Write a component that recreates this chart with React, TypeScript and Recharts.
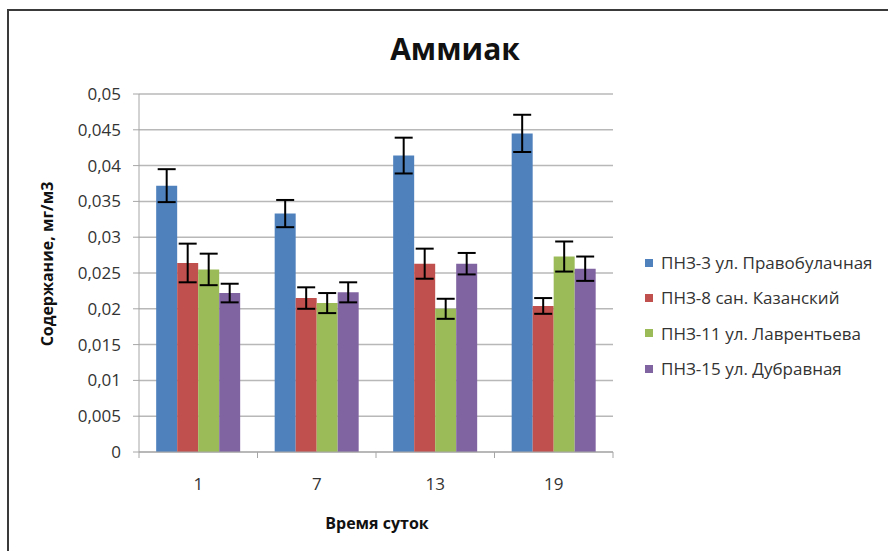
import { BarChart, Bar, XAxis, YAxis, CartesianGrid, ErrorBar, Legend } from "recharts";

// Аммиак: concentration by time of day for four monitoring posts, Excel-2007 look.

const categories = ["1", "7", "13", "19"];

const seriesNames = [
  "ПНЗ-3 ул. Правобулачная",
  "ПНЗ-8 сан. Казанский",
  "ПНЗ-11 ул. Лаврентьева",
  "ПНЗ-15 ул. Дубравная",
];
const seriesColors = ["#4F81BD", "#C0504D", "#9BBB59", "#8064A2"];

const pnz3 = [0.0372, 0.0333, 0.0414, 0.0445];
const pnz3Err = [0.0023, 0.0019, 0.0025, 0.0026];
const pnz8 = [0.0264, 0.0215, 0.0263, 0.0204];
const pnz8Err = [0.0027, 0.0015, 0.0021, 0.0011];
const pnz11 = [0.0255, 0.0208, 0.02, 0.0273];
const pnz11Err = [0.0022, 0.0014, 0.0014, 0.0021];
const pnz15 = [0.0222, 0.0223, 0.0263, 0.0256];
const pnz15Err = [0.0013, 0.0014, 0.0015, 0.0017];

const yTicks = [0, 0.005, 0.01, 0.015, 0.02, 0.025, 0.03, 0.035, 0.04, 0.045, 0.05];

const data = categories.map((t, i) => ({
  t,
  s1: pnz3[i],
  e1: pnz3Err[i],
  s2: pnz8[i],
  e2: pnz8Err[i],
  s3: pnz11[i],
  e3: pnz11Err[i],
  s4: pnz15[i],
  e4: pnz15Err[i],
}));

const W = 888;
const H = 551;
const PLOT_LEFT = 139;
const PLOT_RIGHT = 613;
const PLOT_TOP = 94;
const PLOT_BOTTOM = 452;
const Y_AXIS_W = 60;
const X_AXIS_H = 30;
const FONT = "'Open Sans', sans-serif";
const TEXT = "#333";

const band = (PLOT_RIGHT - PLOT_LEFT) / categories.length;

function XTick(props: any) {
  const { x, payload, index } = props;
  return (
    <g>
      <line x1={x - band / 2} x2={x - band / 2} y1={PLOT_BOTTOM} y2={PLOT_BOTTOM + 6} stroke="#a6a6a6" />
      {index === categories.length - 1 && (
        <line x1={x + band / 2} x2={x + band / 2} y1={PLOT_BOTTOM} y2={PLOT_BOTTOM + 6} stroke="#a6a6a6" />
      )}
      <text x={x} y={PLOT_BOTTOM + 38} textAnchor="middle" fontSize={17} fill={TEXT} fontFamily={FONT}>
        {payload.value}
      </text>
    </g>
  );
}

function LegendBox() {
  return (
    <div style={{ fontFamily: FONT, fontSize: 17, color: TEXT }}>
      {seriesNames.map((name, i) => (
        <div key={name} style={{ display: "flex", alignItems: "center", height: 35.3 }}>
          <span style={{ width: 8, height: 8, background: seriesColors[i], marginRight: 8 }} />
          <span style={{ whiteSpace: "nowrap" }}>{name}</span>
        </div>
      ))}
    </div>
  );
}

export default function App() {
  const keys = ["s1", "s2", "s3", "s4"];
  const errs = ["e1", "e2", "e3", "e4"];
  return (
    <div
      style={{
        position: "absolute",
        left: 0,
        top: 0,
        width: W,
        height: H,
        overflow: "hidden",
        background: "#fff",
        fontFamily: FONT,
      }}
    >
      <div
        style={{
          position: "absolute",
          left: 7,
          top: 9,
          width: W,
          height: H,
          borderLeft: "2px solid #3a3a3a",
          borderTop: "2px solid #3a3a3a",
        }}
      />
      <div
        style={{
          position: "absolute",
          left: 0,
          width: 910,
          top: 28,
          textAlign: "center",
          fontSize: 30,
          fontWeight: 700,
          color: "#111",
        }}
      >
        Аммиак
      </div>
      <div
        style={{
          position: "absolute",
          left: 47,
          top: 264,
          transform: "translate(-50%, -50%) rotate(-90deg)",
          whiteSpace: "nowrap",
          fontSize: 16,
          fontWeight: 700,
          color: "#111",
        }}
      >
        Содержание, мг/м3
      </div>
      <div
        style={{
          position: "absolute",
          left: 377,
          top: 523,
          transform: "translate(-50%, -50%)",
          whiteSpace: "nowrap",
          fontSize: 16,
          fontWeight: 700,
          color: "#111",
        }}
      >
        Время суток
      </div>
      <div style={{ position: "absolute", left: 0, top: 0 }}>
        <BarChart
          width={W}
          height={H}
          data={data}
          margin={{
            top: PLOT_TOP,
            right: W - PLOT_RIGHT,
            left: PLOT_LEFT - Y_AXIS_W,
            bottom: H - PLOT_BOTTOM - X_AXIS_H,
          }}
          barCategoryGap="14.5%"
          barGap={0}
        >
          <CartesianGrid vertical={false} stroke="#b8b8b8" strokeWidth={1.5} />
          <XAxis
            dataKey="t"
            height={X_AXIS_H}
            stroke="#a6a6a6"
            tickLine={false}
            tick={<XTick />}
            interval={0}
          />
          <YAxis
            width={Y_AXIS_W}
            domain={[0, 0.05]}
            ticks={yTicks}
            interval={0}
            stroke="#a6a6a6"
            tickSize={6}
            tickMargin={12}
            tick={{ fill: TEXT, fontSize: 17, fontFamily: FONT }}
            tickFormatter={(v: number) => String(v).replace(".", ",")}
          />
          <Legend
            layout="vertical"
            align="center"
            verticalAlign="middle"
            wrapperStyle={{ left: 645, top: 245, width: 240 }}
            content={() => <LegendBox />}
          />
          {keys.map((k, i) => (
            <Bar key={k} dataKey={k} name={seriesNames[i]} fill={seriesColors[i]} isAnimationActive={false}>
              <ErrorBar dataKey={errs[i]} width={9} stroke="#000" strokeWidth={2} direction="y" isAnimationActive={false} />
            </Bar>
          ))}
        </BarChart>
      </div>
    </div>
  );
}
